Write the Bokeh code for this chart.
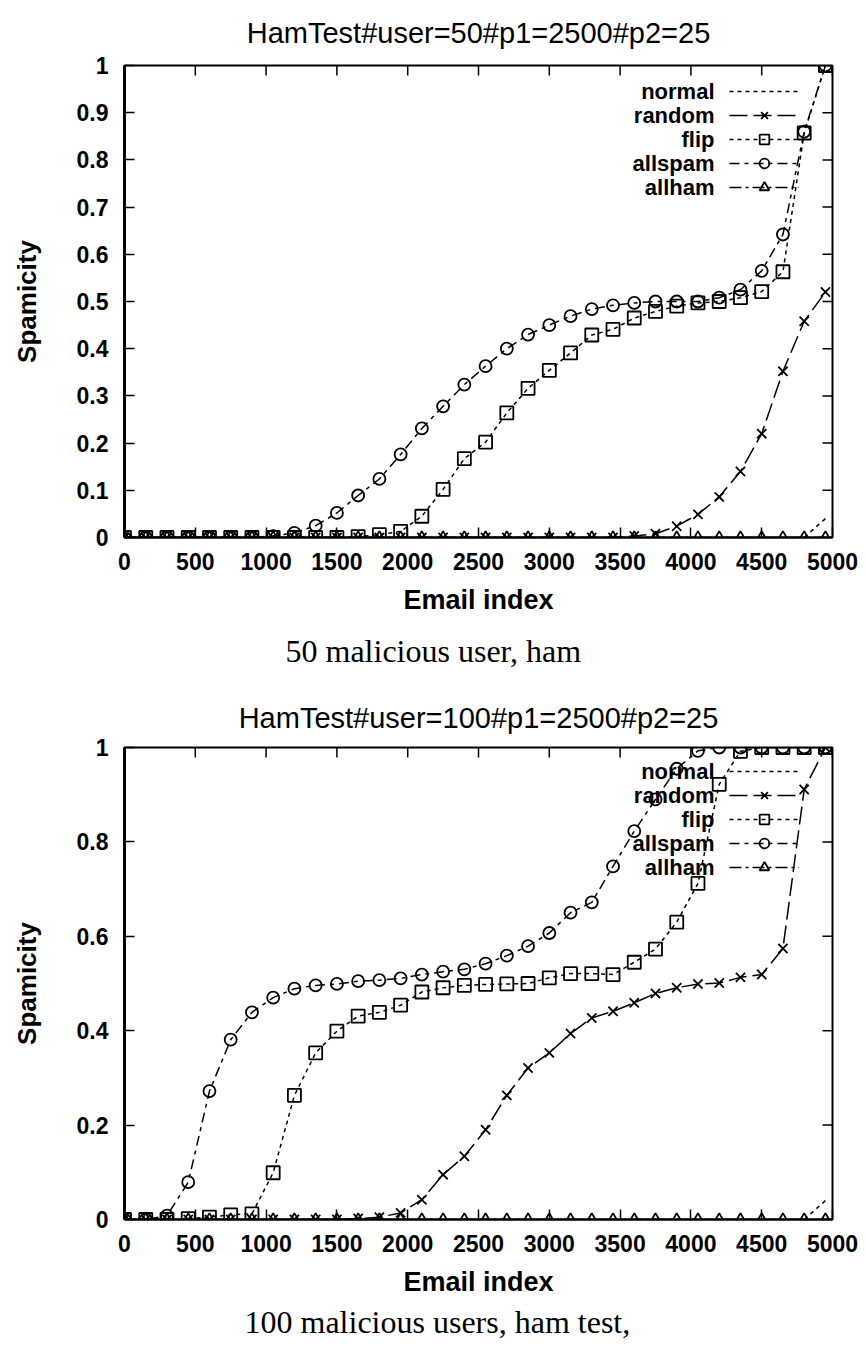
import math
from bokeh.plotting import figure
from bokeh.layouts import column
from bokeh.models import (Legend, LegendItem, Range1d, Label, Title,
                          FixedTicker, NumeralTickFormatter)
from bokeh.embed import file_html
from bokeh.resources import INLINE

# ---------------- data ----------------
email_index = [0, 150, 300, 450, 600, 750, 900, 1050, 1200, 1350, 1500, 1650,
               1800, 1950, 2100, 2250, 2400, 2550, 2700, 2850, 3000, 3150, 3300,
               3450, 3600, 3750, 3900, 4050, 4200, 4350, 4500, 4650, 4800, 4950]

series_names = ["normal", "random", "flip", "allspam", "allham"]

# 50 malicious users
normal_50 = [0, 0, 0, 0, 0, 0, 0, 0, 0, 0, 0, 0, 0, 0, 0, 0, 0, 0, 0, 0, 0, 0,
             0, 0, 0, 0, 0, 0, 0, 0, 0, 0, 0, 0.04]
random_50 = [0, 0, 0, 0, 0, 0, 0, 0, 0, 0, 0, 0, 0, 0, 0, 0, 0, 0, 0, 0, 0, 0,
             0, 0, 0.003, 0.008, 0.024, 0.049, 0.086, 0.140, 0.220, 0.352,
             0.458, 0.520]
flip_50 = [0, 0, 0, 0, 0, 0, 0, 0, 0, 0, 0, 0.002, 0.006, 0.013, 0.045, 0.102,
           0.167, 0.202, 0.264, 0.316, 0.354, 0.391, 0.429, 0.441, 0.465, 0.479,
           0.490, 0.497, 0.500, 0.508, 0.521, 0.563, 0.857, 1.0]
allspam_50 = [0, 0, 0, 0, 0, 0, 0, 0.003, 0.010, 0.025, 0.052, 0.089, 0.124,
              0.176, 0.231, 0.278, 0.324, 0.363, 0.400, 0.430, 0.450, 0.469,
              0.484, 0.492, 0.497, 0.500, 0.500, 0.500, 0.508, 0.525, 0.565,
              0.642, 0.860, 1.0]
allham_50 = [0, 0, 0, 0, 0, 0, 0, 0, 0, 0, 0, 0, 0, 0, 0, 0, 0, 0, 0, 0, 0, 0,
             0, 0, 0, 0, 0, 0, 0, 0, 0, 0, 0, 0]

# 100 malicious users
normal_100 = [0, 0, 0, 0, 0, 0, 0, 0, 0, 0, 0, 0, 0, 0, 0, 0, 0, 0, 0, 0, 0, 0,
              0, 0, 0, 0, 0, 0, 0, 0, 0, 0, 0, 0.04]
random_100 = [0, 0, 0, 0, 0, 0, 0, 0, 0, 0, 0, 0.002, 0.005, 0.014, 0.042,
              0.095, 0.134, 0.190, 0.263, 0.321, 0.353, 0.394, 0.427, 0.441,
              0.459, 0.479, 0.491, 0.499, 0.501, 0.513, 0.519, 0.574, 0.911, 1.0]
flip_100 = [0, 0, 0, 0.002, 0.005, 0.010, 0.012, 0.099, 0.263, 0.353, 0.399,
            0.431, 0.439, 0.454, 0.482, 0.491, 0.496, 0.498, 0.499, 0.500,
            0.512, 0.521, 0.521, 0.519, 0.545, 0.573, 0.630, 0.712, 0.922,
            0.992, 1.0, 1.0, 1.0, 1.0]
allspam_100 = [0, 0, 0.008, 0.079, 0.272, 0.381, 0.439, 0.470, 0.489, 0.496,
               0.499, 0.505, 0.507, 0.511, 0.519, 0.525, 0.530, 0.542, 0.559,
               0.579, 0.607, 0.650, 0.672, 0.748, 0.823, 0.890, 0.955, 0.993,
               1.0, 1.0, 1.0, 1.0, 1.0, 1.0]
allham_100 = [0, 0, 0, 0, 0, 0, 0, 0, 0, 0, 0, 0, 0, 0, 0, 0, 0, 0, 0, 0, 0, 0,
              0, 0, 0, 0, 0, 0, 0, 0, 0, 0, 0, 0]

x_ticks = [0, 500, 1000, 1500, 2000, 2500, 3000, 3500, 4000, 4500, 5000]
y_ticks_50 = [0, 0.1, 0.2, 0.3, 0.4, 0.5, 0.6, 0.7, 0.8, 0.9, 1]
y_ticks_100 = [0, 0.2, 0.4, 0.6, 0.8, 1]

title_50 = "HamTest#user=50#p1=2500#p2=25"
title_100 = "HamTest#user=100#p1=2500#p2=25"
caption_50 = "50 malicious user, ham"
caption_100 = "100 malicious users, ham test,"

# ---------------- styling ----------------
SANS = "Liberation Sans"
SERIF = "Liberation Serif"
styles = {
    "normal":  dict(dash="4 4", marker=None),
    "random":  dict(dash="18 6", marker="x"),
    "flip":    dict(dash="4 4", marker="square"),
    "allspam": dict(dash="10 5 4 5", marker="circle"),
    "allham":  dict(dash="12 4 3 4", marker="triangle"),
}
marker_size = {"x": 13, "square": 13, "circle": 12, "triangle": 11}


def style_axis(ax, ticks, fmt):
    ax.ticker = FixedTicker(ticks=ticks)
    ax.formatter = NumeralTickFormatter(format=fmt)
    ax.major_tick_in = 10
    ax.major_tick_out = 0
    ax.minor_tick_line_color = None
    ax.major_tick_line_color = "black"
    ax.major_tick_line_width = 1.5
    ax.axis_line_color = "black"
    ax.axis_line_width = 2
    ax.major_label_text_font = SANS
    ax.major_label_text_font_style = "bold"
    ax.major_label_text_font_size = "23px"
    ax.major_label_text_color = "black"
    ax.axis_label_text_font = SANS
    ax.axis_label_text_font_style = "bold"
    ax.axis_label_text_color = "black"


def make_chart(title, title_standoff, caption, cap_offset, cap_standoff, data,
               y_ticks, b_top, b_bottom, leg_y):
    p = figure(frame_width=708, frame_height=472, output_backend="svg",
               toolbar_location=None, x_range=Range1d(0, 5000),
               y_range=Range1d(0, 1), min_border_left=124, min_border_right=30,
               min_border_top=b_top, min_border_bottom=b_bottom,
               background_fill_color="white", border_fill_color="white")
    p.grid.visible = False
    p.outline_line_color = "black"
    p.outline_line_width = 2

    xa = p.below[0]
    style_axis(xa, x_ticks, "0")
    xa.axis_label = "Email index"
    xa.axis_label_text_font_size = "27px"
    xa.major_label_standoff = 15
    xa.axis_label_standoff = 12

    ya = p.left[0]
    style_axis(ya, y_ticks, "0.[0]")
    ya.axis_label = "Spamicity"
    ya.axis_label_text_font_size = "26px"
    ya.major_label_standoff = 16
    ya.axis_label_standoff = 32
    ya.axis_line_width = 3

    p.title = Title(text=title, align="center", vertical_align="top",
                    text_font=SANS, text_font_style="normal",
                    text_font_size="29px", text_color="black",
                    standoff=title_standoff)

    # mirrored inward ticks on the top and right borders
    p.ray(x=x_ticks, y=[p.y_range.end] * len(x_ticks), length=10,
          length_units="screen", angle=-math.pi / 2, line_color="black",
          line_width=1.5)
    p.ray(x=[p.x_range.end] * len(y_ticks), y=y_ticks, length=10,
          length_units="screen", angle=math.pi, line_color="black",
          line_width=1.5)

    # caption below the x axis
    p.add_layout(Title(text=caption, align="left", text_font=SERIF,
                       text_font_style="normal", text_font_size="32px",
                       text_color="black", offset=cap_offset,
                       standoff=cap_standoff), "below")

    items = []
    for name in series_names:
        st = styles[name]
        ys = data[name]
        rl = p.line(email_index, ys, line_color="black", line_width=1.5,
                    line_dash=st["dash"])
        rends = [rl]
        if st["marker"]:
            rs = p.scatter(email_index, ys, marker=st["marker"],
                           size=marker_size[st["marker"]], fill_color=None,
                           line_color="black", line_width=1.8)
            rends.append(rs)
        items.append(LegendItem(label="", renderers=rends))

    legend = Legend(items=items, location=(605, leg_y), glyph_width=70,
                    glyph_height=24, label_height=24, label_width=0,
                    spacing=0, padding=0, margin=0, label_standoff=0,
                    label_text_font_size="10px",
                    background_fill_alpha=0, border_line_color=None)
    p.add_layout(legend, "center")

    for i, name in enumerate(series_names):
        p.add_layout(Label(x=590, y=leg_y + 108 - 24 * i, x_units="screen",
                           y_units="screen", text=name, text_align="right",
                           text_baseline="middle", text_font=SANS,
                           text_font_style="bold", text_font_size="22px",
                           text_color="black"))
    return p


p1 = make_chart(title_50, 30, caption_50, 161, 27,
                dict(normal=normal_50, random=random_50, flip=flip_50,
                     allspam=allspam_50, allham=allham_50),
                y_ticks_50, 65, 150, 338)
p2 = make_chart(title_100, 24, caption_100, 120, 5,
                dict(normal=normal_100, random=random_100, flip=flip_100,
                     allspam=allspam_100, allham=allham_100),
                y_ticks_100, 60, 127, 340)

layout = column(p1, p2, spacing=0)
open("out.html", "w").write(file_html(layout, INLINE))
